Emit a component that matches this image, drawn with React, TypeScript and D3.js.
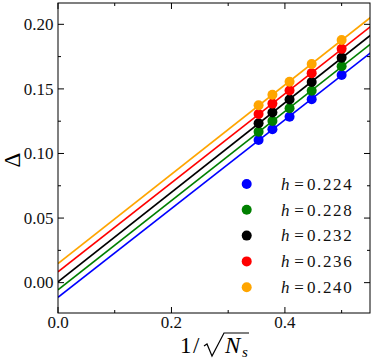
import React, { useRef, useEffect } from 'react';
import * as d3 from 'd3';

// 1/sqrt(Ns) for Ns = 8, 7, 6, 5, 4
const invSqrtNs = [0.3536, 0.378, 0.4082, 0.4472, 0.5];
const hLabels = ['0.224', '0.228', '0.232', '0.236', '0.240'];
const colors = ['#0000ff', '#008000', '#000000', '#ff0000', '#ffa500'];
const gap224 = [0.1104, 0.1187, 0.1285, 0.142, 0.1608];
const gap228 = [0.1169, 0.1251, 0.1350, 0.1486, 0.1675];
const gap232 = [0.1234, 0.1317, 0.1418, 0.1553, 0.1742];
const gap236 = [0.1306, 0.1386, 0.1487, 0.1622, 0.1810];
const gap240 = [0.1373, 0.1455, 0.1556, 0.1693, 0.1879];
const series = [gap224, gap228, gap232, gap236, gap240];
const xTicks = [0, 0.2, 0.4];
const yTicks = [0, 0.05, 0.1, 0.15, 0.2];

const W = 374, H = 362;
const margin = { left: 58, top: 3, right: 4, bottom: 49 };
const FONT = '"Liberation Serif", "DejaVu Serif", serif';

// least squares line through the points
const fit = (xs: number[], ys: number[]) => {
  const mx = d3.mean(xs) as number;
  const my = d3.mean(ys) as number;
  let sxy = 0, sxx = 0;
  xs.forEach((x, i) => { sxy += (x - mx) * (ys[i] - my); sxx += (x - mx) * (x - mx); });
  const slope = sxy / sxx;
  return { slope, intercept: my - slope * mx };
};

const Chart = () => {
  const svgRef = useRef<SVGSVGElement>(null);

  useEffect(() => {
    const svg = d3.select(svgRef.current);
    svg.selectAll('*').remove();
    const x0 = margin.left, x1 = W - margin.right;
    const y0 = H - margin.bottom, y1 = margin.top;
    const x = d3.scaleLinear().domain([0, 0.55]).range([x0, x1]);
    const y = d3.scaleLinear().domain([-0.0235, 0.2165]).range([y0, y1]);

    svg.append('defs').append('clipPath').attr('id', 'plot-clip')
      .append('rect').attr('x', x0).attr('y', y1).attr('width', x1 - x0).attr('height', y0 - y1);

    // fit lines
    const lines = svg.append('g').attr('clip-path', 'url(#plot-clip)');
    series.forEach((ys, i) => {
      const f = fit(invSqrtNs, ys);
      const line = d3.line<number>().x(d => x(d)).y(d => y(f.intercept + f.slope * d));
      lines.append('path')
        .attr('d', line([0, 0.6]))
        .attr('fill', 'none')
        .attr('stroke', colors[i])
        .attr('stroke-width', 1.6);
    });

    // data points
    series.forEach((ys, i) => {
      svg.append('g').selectAll('circle')
        .data(ys)
        .enter()
        .append('circle')
        .attr('cx', (d, j) => x(invSqrtNs[j]))
        .attr('cy', d => y(d))
        .attr('r', 5)
        .attr('fill', colors[i]);
    });

    // frame + ticks
    const ax = svg.append('g').attr('stroke', '#000').attr('stroke-width', 1);
    ax.append('rect').attr('x', x0).attr('y', y1).attr('width', x1 - x0).attr('height', y0 - y1).attr('fill', 'none');
    d3.range(0, 0.551, 0.1).forEach(t => {
      const major = xTicks.some(v => Math.abs(v - t) < 1e-6);
      const len = major ? 6 : 3;
      ax.append('line').attr('x1', x(t)).attr('x2', x(t)).attr('y1', y0).attr('y2', y0 - len);
      ax.append('line').attr('x1', x(t)).attr('x2', x(t)).attr('y1', y1).attr('y2', y1 + len);
    });
    d3.range(0, 0.2165, 0.025).forEach(t => {
      const major = yTicks.some(v => Math.abs(v - t) < 1e-6);
      const len = major ? 6 : 3;
      ax.append('line').attr('x1', x0).attr('x2', x0 + len).attr('y1', y(t)).attr('y2', y(t));
      ax.append('line').attr('x1', x1).attr('x2', x1 - len).attr('y1', y(t)).attr('y2', y(t));
    });

    // tick labels
    svg.append('g').selectAll('text')
      .data(xTicks)
      .enter()
      .append('text')
      .attr('x', d => x(d))
      .attr('y', y0 + 15)
      .attr('text-anchor', 'middle')
      .attr('font-family', FONT)
      .attr('font-size', 17)
      .attr('fill', '#111')
      .text(d => d.toFixed(1));
    svg.append('g').selectAll('text')
      .data(yTicks)
      .enter()
      .append('text')
      .attr('x', x0 - 4.5)
      .attr('y', d => y(d) + 5.8)
      .attr('text-anchor', 'end')
      .attr('font-family', FONT)
      .attr('font-size', 17)
      .attr('fill', '#111')
      .text(d => d.toFixed(2));

    // y label
    svg.append('text')
      .attr('transform', `translate(20,${(y0 + y1) / 2 + 2}) rotate(-90)`)
      .attr('text-anchor', 'middle')
      .attr('font-family', FONT)
      .attr('font-size', 23)
      .text('Δ');

    // x label: 1/sqrt(N_s)
    const xl = svg.append('g').attr('transform', 'translate(180,353)').attr('font-family', FONT);
    xl.append('text').attr('x', 0).attr('y', 0).attr('font-size', 23).attr('letter-spacing', 1.5).text('1/');
    xl.append('path')
      .attr('d', 'M24,-7 L27,-9 L32,3 L44,-20 L69,-20')
      .attr('fill', 'none').attr('stroke', '#000').attr('stroke-width', 1.2);
    xl.append('text').attr('x', 45).attr('y', 0).attr('font-size', 23).attr('font-style', 'italic').text('N');
    xl.append('text').attr('x', 62).attr('y', 4).attr('font-size', 15).attr('font-style', 'italic').text('s');

    // legend
    const lg = svg.append('g').attr('font-family', FONT).attr('font-size', 17).attr('fill', '#111');
    hLabels.forEach((lab, i) => {
      const ly = 184 + i * 25.8;
      lg.append('circle').attr('cx', 246.7).attr('cy', ly).attr('r', 5).attr('fill', colors[i]);
      lg.append('text').attr('x', 281).attr('y', ly + 5.8).attr('font-style', 'italic').text('h');
      lg.append('text').attr('x', 299).attr('y', ly + 5.8).attr('text-anchor', 'middle').text('=');
      lg.append('text').attr('x', 307).attr('y', ly + 5.8).attr('letter-spacing', 1.6).text(lab);
    });
  }, []);

  return <svg ref={svgRef} width={W} height={H} style={{ position: 'absolute', left: 0, top: 0, background: '#fff' }} />;
};

export default function App() {
  return <Chart />;
}
